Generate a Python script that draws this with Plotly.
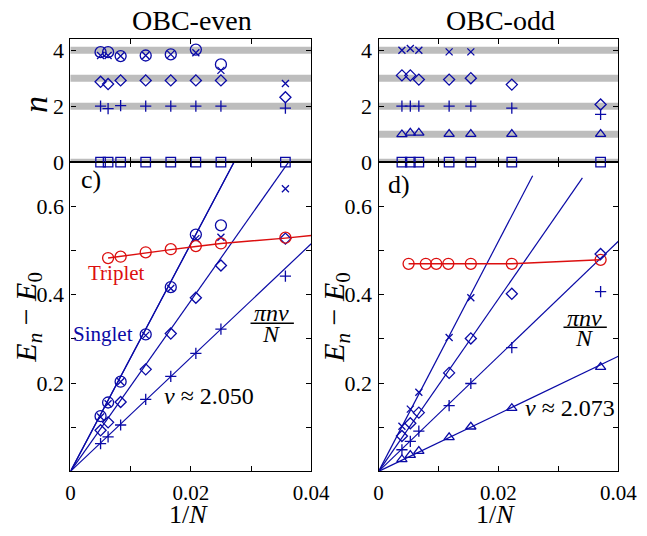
import plotly.graph_objects as go

W, H = 647, 536

# ---------------- data ----------------
# OBC-even (1/N for even chains)
x_even = [1/200, 1/160, 1/120, 1/80, 1/60, 1/48, 1/40, 1/28]
n_even_circle = [3.93, 3.93, 3.79, 3.81, 3.85, 4.02, 3.49, None]
n_even_x = [3.81, 3.81, 3.79, 3.81, 3.85, 3.91, 3.28, 2.81]
n_even_diamond = [2.87, 2.79, 2.92, 2.92, 2.92, 2.92, 2.92, 2.32]
n_even_plus = [2.00, 1.91, 2.02, 2.00, 2.00, 2.00, 2.00, 1.93]
n_even_square = [0, 0, 0, 0, 0, 0, 0, 0]
E_even_circle = [0.125, 0.156, 0.203, 0.310, 0.417, 0.536, 0.557, None]
E_even_x = [0.123, 0.153, 0.203, 0.308, 0.414, 0.527, 0.530, 0.640]
E_even_diamond = [0.093, 0.111, 0.157, 0.231, 0.312, 0.393, 0.466, 0.527]
E_even_plus = [0.063, 0.078, 0.105, 0.163, 0.215, 0.267, 0.322, 0.442]
x_even_triplet = [1/160, 1/120, 1/80, 1/60, 1/48, 1/40, 1/28]
E_even_triplet = [0.483, 0.486, 0.496, 0.503, 0.510, 0.516, 0.529]
x_even_triplet_fit = [1/160, 1/120, 1/80, 1/60, 1/48, 1/40, 1/28, 0.04]
E_even_triplet_fit = [0.483, 0.487, 0.495, 0.502, 0.509, 0.516, 0.528, 0.534]
v_even = 2.050
n_even_lines = [2, 3, 4, 4]

# OBC-odd
x_odd = [1/257, 1/189, 1/149, 1/85, 1/65, 1/45, 1/27]
n_odd_x = [4.00, 4.06, 4.00, 3.94, 3.94, None, None]
n_odd_diamond = [3.10, 3.10, 2.95, 2.95, 3.00, 2.77, 2.06]
n_odd_plus = [2.00, 2.00, 2.00, 2.00, 2.00, 1.93, 1.71]
n_odd_tri = [0.99, 1.05, 1.05, 1.00, 1.00, 1.00, 1.00]
n_odd_square = [0, 0, 0, 0, 0, 0, 0]
E_odd_x = [0.102, 0.141, 0.179, 0.303, 0.393, None, None]
E_odd_diamond = [0.080, 0.109, 0.133, 0.223, 0.301, 0.402, 0.492]
E_odd_plus = [0.049, 0.068, 0.091, 0.149, 0.199, 0.280, 0.407]
E_odd_tri = [0.027, 0.037, 0.046, 0.077, 0.101, 0.143, 0.236]
x_odd_triplet = [1/200, 1/127, 1/104, 1/86, 1/65, 1/45, 1/27]
E_odd_triplet = [0.470, 0.470, 0.470, 0.470, 0.470, 0.470, 0.479]
v_odd = 2.073
n_odd_lines = [1, 2, 3, 4]
x_odd_line_end = [0.04, 0.04, 0.034, 0.0257]

even_bands = [0, 2, 3, 4]
odd_bands = [0, 1, 2, 3, 4]

x_ticks = [0, 0.02, 0.04]
x_ticktext = ["0", "0.02", "0.04"]
E_ticks = [0.2, 0.4, 0.6]
E_ticktext = ["0.2", "0.4", "0.6"]
n_ticks = [0, 2, 4]

# ---------------- style ----------------
BLUE = "#0a0aa6"
RED = "#dc0f0f"
GRAY = "#bdbdbd"
FONT = "Liberation Serif"
PI = 3.141592653589793

SZ = {"circle-open": 11, "diamond-open": 8.5, "cross-thin-open": 8,
      "x-thin-open": 7, "square-open": 9.5, "triangle-up-open": 9}

fig = go.Figure()

def mk(x, y, sym, color=BLUE, xa="x", ya="y", mode="markers", lw=1.3):
    fig.add_trace(go.Scatter(
        x=x, y=y, mode=mode, xaxis=xa, yaxis=ya, cliponaxis=False,
        line=dict(color=color, width=1.4),
        marker=dict(symbol=sym, size=SZ[sym], color=color, line=dict(color=color, width=lw)),
        showlegend=False, hoverinfo="skip"))

def line(x, y, color=BLUE, xa="x", ya="y", w=1.2):
    fig.add_trace(go.Scatter(x=x, y=y, mode="lines", xaxis=xa, yaxis=ya,
                             line=dict(color=color, width=w),
                             showlegend=False, hoverinfo="skip"))

# --- top-left (x2, y2): n vs 1/N, even
mk(x_even, n_even_square, "square-open", xa="x2", ya="y2")
mk(x_even, n_even_plus, "cross-thin-open", xa="x2", ya="y2")
mk(x_even, n_even_diamond, "diamond-open", xa="x2", ya="y2")
mk(x_even, n_even_x, "x-thin-open", xa="x2", ya="y2")
mk(x_even, n_even_circle, "circle-open", xa="x2", ya="y2")

# --- bottom-left (x, y): energies, even
for n in n_even_lines:
    s = PI * n * v_even
    line([0, 0.04], [0, s * 0.04], w=1.2)
line(x_even_triplet_fit, E_even_triplet_fit, color=RED, w=1.4)
mk(x_even, E_even_plus, "cross-thin-open")
mk(x_even, E_even_diamond, "diamond-open")
mk(x_even, E_even_x, "x-thin-open")
mk(x_even, E_even_circle, "circle-open")
mk(x_even_triplet, E_even_triplet, "circle-open", color=RED)

# --- top-right (x4, y4): n vs 1/N, odd
mk(x_odd, n_odd_square, "square-open", xa="x4", ya="y4")
mk(x_odd, n_odd_tri, "triangle-up-open", xa="x4", ya="y4")
mk(x_odd, n_odd_plus, "cross-thin-open", xa="x4", ya="y4")
mk(x_odd, n_odd_diamond, "diamond-open", xa="x4", ya="y4")
mk(x_odd, n_odd_x, "x-thin-open", xa="x4", ya="y4")

# --- bottom-right (x3, y3): energies, odd
for n, xe in zip(n_odd_lines, x_odd_line_end):
    s = PI * n * v_odd
    line([0, xe], [0, s * xe], xa="x3", ya="y3")
mk(x_odd_triplet, E_odd_triplet, "circle-open", color=RED, xa="x3", ya="y3", mode="lines+markers")
mk(x_odd, E_odd_tri, "triangle-up-open", xa="x3", ya="y3")
mk(x_odd, E_odd_plus, "cross-thin-open", xa="x3", ya="y3")
mk(x_odd, E_odd_diamond, "diamond-open", xa="x3", ya="y3")
mk(x_odd, E_odd_x, "x-thin-open", xa="x3", ya="y3")

# ---------------- layout ----------------
def pxx(v): return v / W
def pyy(v): return 1 - v / H

left_dom = [pxx(68), pxx(318)]
right_dom = [pxx(388), pxx(637)]
bot_dom = [pyy(483), pyy(165.5)]
top_dom = [pyy(165.5), pyy(39)]

axcommon = dict(showline=True, linecolor="black", linewidth=1.3, mirror="ticks",
                ticks="inside", ticklen=5, tickwidth=1, tickcolor="black",
                showgrid=False, zeroline=False,
                tickfont=dict(family=FONT, size=22, color="black"))
minor_x = dict(dtick=0.01, tick0=0, ticks="inside", ticklen=5, tickwidth=1,
               tickcolor="black", showgrid=False)
minor_E = dict(dtick=0.1, tick0=0, ticks="inside", ticklen=5, tickwidth=1,
               tickcolor="black", showgrid=False)

xbot = dict(axcommon, range=[0, 0.04], tickvals=x_ticks, ticktext=x_ticktext,
            ticklabelstandoff=2, minor=minor_x, tickfont=dict(family=FONT, size=21, color="black"))
xtop = dict(axcommon, range=[0, 0.04], tickvals=x_ticks, showticklabels=False, minor=minor_x)
ybot = dict(axcommon, range=[0, 0.7], tickvals=E_ticks, ticktext=E_ticktext,
            ticklabelstandoff=1, minor=minor_E)
ytop = dict(axcommon, range=[0, 4.4], tickvals=n_ticks, ticklabelstandoff=1)

fig.update_layout(
    width=W, height=H, margin=dict(l=0, r=0, t=0, b=0),
    paper_bgcolor="white", plot_bgcolor="white", showlegend=False,
    font=dict(family=FONT, color="black"),
    xaxis=dict(xbot, domain=left_dom, anchor="y"),
    yaxis=dict(ybot, domain=bot_dom, anchor="x"),
    xaxis2=dict(xtop, domain=left_dom, anchor="y2"),
    yaxis2=dict(ytop, domain=top_dom, anchor="x2"),
    xaxis3=dict(xbot, domain=right_dom, anchor="y3"),
    yaxis3=dict(ybot, domain=bot_dom, anchor="x3"),
    xaxis4=dict(xtop, domain=right_dom, anchor="y4"),
    yaxis4=dict(ytop, domain=top_dom, anchor="x4"),
)

shapes = []
for lv in even_bands:
    shapes.append(dict(type="line", xref="x2 domain", yref="y2", x0=0, x1=1, y0=lv, y1=lv,
                       line=dict(color=GRAY, width=7), layer="below"))
for lv in odd_bands:
    shapes.append(dict(type="line", xref="x4 domain", yref="y4", x0=0, x1=1, y0=lv, y1=lv,
                       line=dict(color=GRAY, width=7), layer="below"))

# fraction bars for pi n v / N
shapes.append(dict(type="line", xref="paper", yref="paper", x0=pxx(255), x1=pxx(300),
                   y0=pyy(331), y1=pyy(331), line=dict(color="black", width=1.5)))
shapes.append(dict(type="line", xref="paper", yref="paper", x0=pxx(580), x1=pxx(625),
                   y0=pyy(335), y1=pyy(335), line=dict(color="black", width=1.5)))
fig.update_layout(shapes=shapes)

def ann(text, x, y, size, color="black", angle=0):
    return dict(text=text, x=pxx(x), y=pyy(y), xref="paper", yref="paper",
                xanchor="center", yanchor="middle", showarrow=False, textangle=angle,
                font=dict(family=FONT, size=size, color=color))

anns = [
    ann("OBC-even", 194, 20, 28),
    ann("OBC-odd", 515, 20, 28),
    ann("<i>n</i>", 31, 106, 34, angle=-90),
    ann("<i>E<sub>n</sub></i> − <i>E</i><sub>0</sub>", 23, 325, 30, angle=-90),
    ann("<i>E<sub>n</sub></i> − <i>E</i><sub>0</sub>", 343, 325, 30, angle=-90),
    ann("1/<i>N</i>", 191, 527, 26),
    ann("1/<i>N</i>", 509, 527, 26),
    ann("c)", 89, 183, 26),
    ann("d)", 409, 188, 26),
    ann("Triplet", 116, 279, 21, color=RED),
    ann("Singlet", 102, 342, 21, color=BLUE),
    ann("<i>πnv</i>", 277, 320, 24),
    ann("<i>N</i>", 277, 342, 24),
    ann("<i>πnv</i>", 602, 325, 24),
    ann("<i>N</i>", 602, 346, 24),
    ann("<i>v</i> ≈ 2.050", 212, 406, 24),
    ann("<i>v</i> ≈ 2.073", 587, 418, 24),
]
fig.update_layout(annotations=anns)

fig.write_html("out.html")
